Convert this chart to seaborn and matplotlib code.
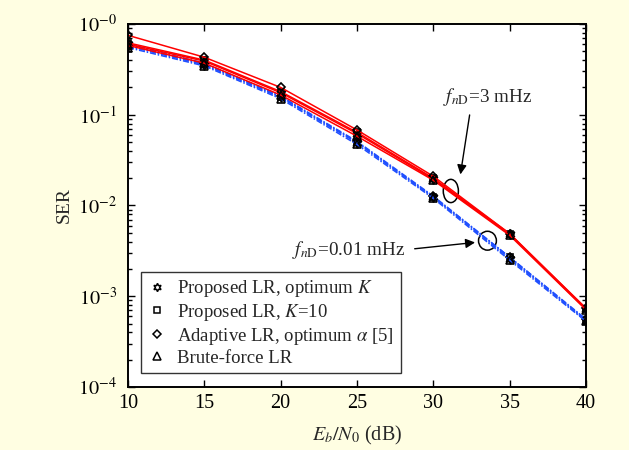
import numpy as np
import pandas as pd
import matplotlib
matplotlib.use("Agg")
import matplotlib.pyplot as plt
from matplotlib.lines import Line2D
from matplotlib.patches import Ellipse
from matplotlib.ticker import FixedLocator, FixedFormatter
import seaborn as sns

snr = [10, 15, 20, 25, 30, 35, 40]
methods = ["Proposed LR, optimum $K$", "Proposed LR, $K$=10",
           r"Adaptive LR, optimum $\alpha$ [5]", "Brute-force LR"]
marks = [(6, 1, 0), "s", "D", "^"]
msizes = [7, 5, 4.5, 6]

# f_nD = 3 mHz (red, solid)
ser_3_optk = [0.60, 0.39, 0.175, 0.062, 0.0195, 0.0048, 0.00072]
ser_3_k10 = [0.62, 0.40, 0.180, 0.064, 0.0200, 0.0049, 0.00073]
ser_3_adapt = [0.75, 0.43, 0.200, 0.068, 0.0210, 0.0049, 0.00074]
ser_3_brute = [0.58, 0.37, 0.165, 0.058, 0.0190, 0.0047, 0.00071]
# f_nD = 0.01 mHz (blue, dash-dot)
ser_001_optk = [0.57, 0.355, 0.155, 0.049, 0.0123, 0.0026, 0.00054]
ser_001_k10 = [0.58, 0.360, 0.158, 0.050, 0.0125, 0.0027, 0.00055]
ser_001_adapt = [0.60, 0.370, 0.160, 0.051, 0.0127, 0.0027, 0.00056]
ser_001_brute = [0.55, 0.345, 0.150, 0.047, 0.0120, 0.0025, 0.00053]

groups = {
    "3 mHz": [ser_3_optk, ser_3_k10, ser_3_adapt, ser_3_brute],
    "0.01 mHz": [ser_001_optk, ser_001_k10, ser_001_adapt, ser_001_brute],
}
styles = {"3 mHz": ("#FF0000", "-"), "0.01 mHz": ("#1F4FFF", (0, (4, 1.2, 1, 1.2)))}

rows = []
for g, series in groups.items():
    for m, vals in zip(methods, series):
        for x, v in zip(snr, vals):
            rows.append({"group": g, "method": m, "snr": x, "ser": v})
df = pd.DataFrame(rows)

sns.set_style("ticks")
plt.rcParams["font.family"] = ["Liberation Serif", "DejaVu Serif"]
plt.rcParams["mathtext.fontset"] = "stix"
plt.rcParams["font.size"] = 12

bg = "#FFFEE2"
fig = plt.figure(figsize=(6.29, 4.5), dpi=100, facecolor=bg)
ax = fig.add_axes([0.2035, 0.14, 0.728, 0.8067])
ax.set_facecolor("white")

for g in ["0.01 mHz", "3 mHz"]:
    col, ls = styles[g]
    for m, mk, ms in zip(methods, marks, msizes):
        sub = df[(df.group == g) & (df.method == m)]
        sns.lineplot(data=sub, x="snr", y="ser", ax=ax, color=col, linestyle=ls,
                     lw=1.1, marker=mk, markersize=ms, markerfacecolor="none",
                     markeredgecolor="k", markeredgewidth=1.2, legend=False)

ax.set_yscale("log")
ax.set_xlim(10, 40)
ax.set_ylim(1e-4, 1)
ax.set_xticks(snr)
ax.set_xticklabels([str(s) for s in snr])
ax.yaxis.set_major_locator(FixedLocator([1e-4, 1e-3, 1e-2, 1e-1, 1]))
ax.yaxis.set_major_formatter(FixedFormatter(
    ["$10^{-4}$", "$10^{-3}$", "$10^{-2}$", "$10^{-1}$", "$10^{-0}$"]))
ax.tick_params(which="both", direction="in", top=True, right=True, width=1, colors="k")
ax.tick_params(which="major", length=5, labelsize=14.5)
ax.tick_params(axis="y", which="major", pad=8)
ax.tick_params(axis="x", which="major", pad=5)
ax.tick_params(which="minor", length=3)
for s in ax.spines.values():
    s.set_linewidth(1.4)
    s.set_color("k")

ax.set_xlabel("$E_b/N_0$ (dB)", fontsize=14.5, labelpad=8)
ax.set_ylabel("SER", fontsize=14, labelpad=4)

# annotations
ax.add_patch(Ellipse((0.705, 0.540), 0.033, 0.064, transform=ax.transAxes,
                     fill=False, ec="k", lw=1.1))
ax.add_patch(Ellipse((0.785, 0.403), 0.039, 0.052, transform=ax.transAxes,
                     fill=False, ec="k", lw=1.1))
ax.text(0.688, 0.80, r"$f_{n\mathrm{D}}$=3 mHz", transform=ax.transAxes,
        ha="left", va="center", fontsize=13.8)
ax.text(0.605, 0.377, r"$f_{n\mathrm{D}}$=0.01 mHz", transform=ax.transAxes,
        ha="right", va="center", fontsize=13.8)
arrow = dict(arrowstyle="-|>", color="k", lw=1.0, mutation_scale=14)
ax.annotate("", xy=(0.725, 0.578), xytext=(0.747, 0.757),
            xycoords="axes fraction", textcoords="axes fraction", arrowprops=arrow)
ax.annotate("", xy=(0.764, 0.399), xytext=(0.620, 0.380),
            xycoords="axes fraction", textcoords="axes fraction", arrowprops=arrow)

handles = [Line2D([], [], ls="none", marker=mk, markersize=ms * 0.85, mfc="none",
                  mec="k", mew=1.1) for mk, ms in zip(marks, msizes)]
leg = ax.legend(handles, methods, loc="lower left", bbox_to_anchor=(0.028, 0.038),
                fontsize=13.5, frameon=True, fancybox=False, handlelength=1.0,
                handletextpad=0.6, borderpad=0.35, labelspacing=0.15, borderaxespad=0)
leg.get_frame().set_edgecolor("k")
leg.get_frame().set_linewidth(1.0)

plt.savefig("out.png", dpi=100, facecolor=bg)
